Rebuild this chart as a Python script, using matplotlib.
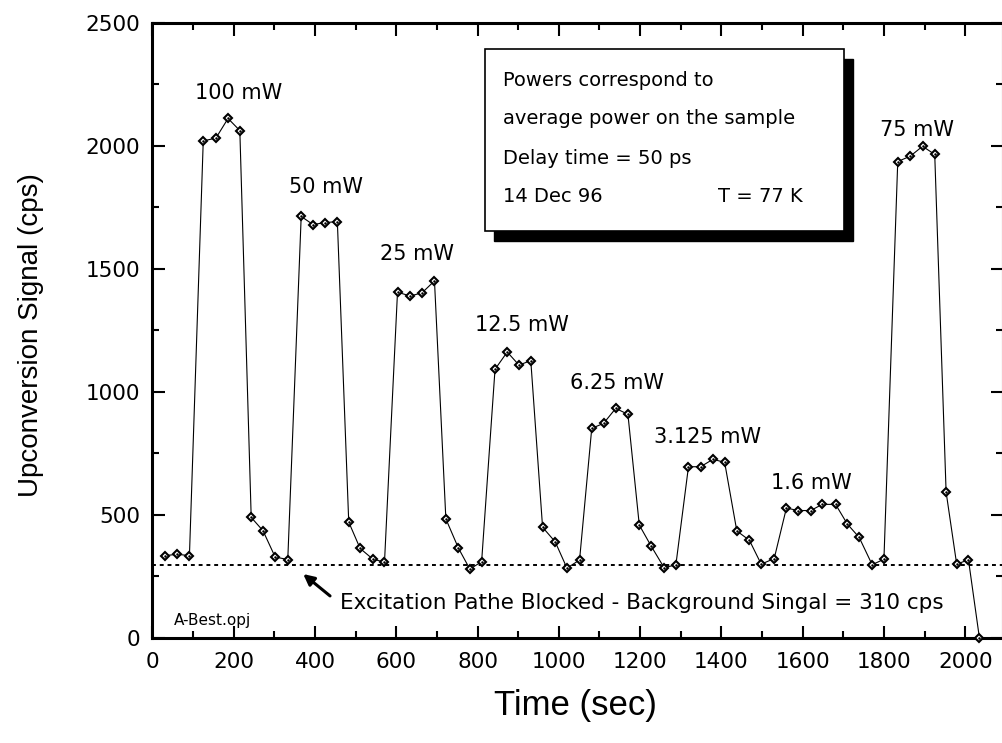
import matplotlib
matplotlib.use("Agg")
import matplotlib.pyplot as plt
from matplotlib.patches import Rectangle
from matplotlib.ticker import MultipleLocator

# data (time in sec, signal in cps)
time_sec = [31, 61, 91, 125, 156, 186, 215, 243, 272, 302, 333, 366, 395, 425,
            455, 483, 511, 542, 571, 603, 634, 663, 694, 722, 753, 781, 810, 843,
            873, 902, 931, 960, 991, 1020, 1051, 1081, 1110, 1140, 1170, 1198,
            1227, 1259, 1288, 1319, 1349, 1379, 1408, 1438, 1469, 1498, 1530,
            1560, 1589, 1620, 1648, 1681, 1710, 1739, 1771, 1800, 1834, 1865,
            1895, 1925, 1953, 1979, 2008, 2035]
signal_cps = [335, 340, 335, 2020, 2031, 2111, 2062, 490, 436, 329, 319, 1713,
              1680, 1688, 1692, 471, 364, 321, 308, 1405, 1390, 1402, 1451, 484,
              365, 280, 310, 1092, 1162, 1109, 1127, 450, 391, 284, 317, 852, 872,
              933, 909, 459, 374, 286, 297, 696, 696, 726, 714, 435, 397, 300, 323,
              528, 518, 518, 543, 543, 463, 409, 298, 320, 1936, 1958, 1998, 1965,
              593, 300, 318, 0]

power_labels = ["100 mW", "50 mW", "25 mW", "12.5 mW", "6.25 mW", "3.125 mW",
                "1.6 mW", "75 mW"]
label_time = [213, 428, 650, 909, 1143, 1366, 1621, 1882]
label_signal = [2213, 1831, 1559, 1272, 1037, 818, 630, 2065]

background_cps = 295

box_lines = ["Powers correspond to", "average power on the sample",
             "Delay time = 50 ps", "14 Dec 96"]
box_line_y = [2267, 2109, 1950, 1792]

plt.rcParams["font.family"] = "DejaVu Sans"

fig = plt.figure(figsize=(10.03, 7.43), dpi=100)
ax = fig.add_axes([0.152, 0.1413, 0.848, 0.8281])

# background level
ax.axhline(background_cps, color="black", lw=1.4, ls=(0, (2, 2)), zorder=1)

# main trace
ax.plot(time_sec, signal_cps, color="black", lw=0.8, marker="D", ms=4.3,
        mfc="white", mec="black", mew=1.5, clip_on=False, zorder=3)
ax.plot(time_sec, signal_cps, ls="none", marker=".", ms=1.6, color="black",
        clip_on=False, zorder=4)

for txt, tx, ty in zip(power_labels, label_time, label_signal):
    ax.text(tx, ty, txt, ha="center", va="center", fontsize=15)

# info box with drop shadow
bx, by, bw, bh = 818.5, 1655, 883.5, 737
ax.add_patch(Rectangle((bx + 22, by - 41), bw, bh, facecolor="black",
                       edgecolor="black", zorder=5))
ax.add_patch(Rectangle((bx, by), bw, bh, facecolor="white", edgecolor="black",
                       lw=1.2, zorder=6))
for line, ly in zip(box_lines, box_line_y):
    ax.text(863, ly, line, ha="left", va="center", fontsize=14, zorder=7)
ax.text(1392, box_line_y[-1], "T = 77 K", ha="left", va="center", fontsize=14,
        zorder=7)

# background note
ax.annotate("", xy=(371, 260), xytext=(437, 171),
            arrowprops=dict(arrowstyle="-|>", color="black", lw=2.2,
                            mutation_scale=16, shrinkA=0, shrinkB=0))
ax.text(462, 142, "Excitation Pathe Blocked - Background Singal = 310 cps",
        ha="left", va="center", fontsize=15.5)
ax.text(148, 73, "A-Best.opj", ha="center", va="center", fontsize=11)

ax.set_xlim(0, 2093)
ax.set_ylim(0, 2500)
ax.xaxis.set_major_locator(MultipleLocator(200))
ax.xaxis.set_minor_locator(MultipleLocator(100))
ax.yaxis.set_major_locator(MultipleLocator(500))
ax.yaxis.set_minor_locator(MultipleLocator(250))
ax.tick_params(which="both", direction="in", top=True, right=True, width=1.5)
ax.tick_params(which="major", length=9, labelsize=15.5)
ax.tick_params(which="minor", length=5)
ax.tick_params(axis="x", pad=10)
ax.tick_params(axis="y", pad=9)
for sp in ax.spines.values():
    sp.set_linewidth(2.2)

fig.text(575 / 1003, 1 - 705 / 743, "Time (sec)", ha="center", va="center",
         fontsize=25, family="Liberation Sans")
fig.text(31 / 1003, 1 - 335 / 743, "Upconversion Signal (cps)", ha="center",
         va="center", rotation=90, fontsize=20, family="Liberation Sans")

fig.savefig("out.png", dpi=100)
